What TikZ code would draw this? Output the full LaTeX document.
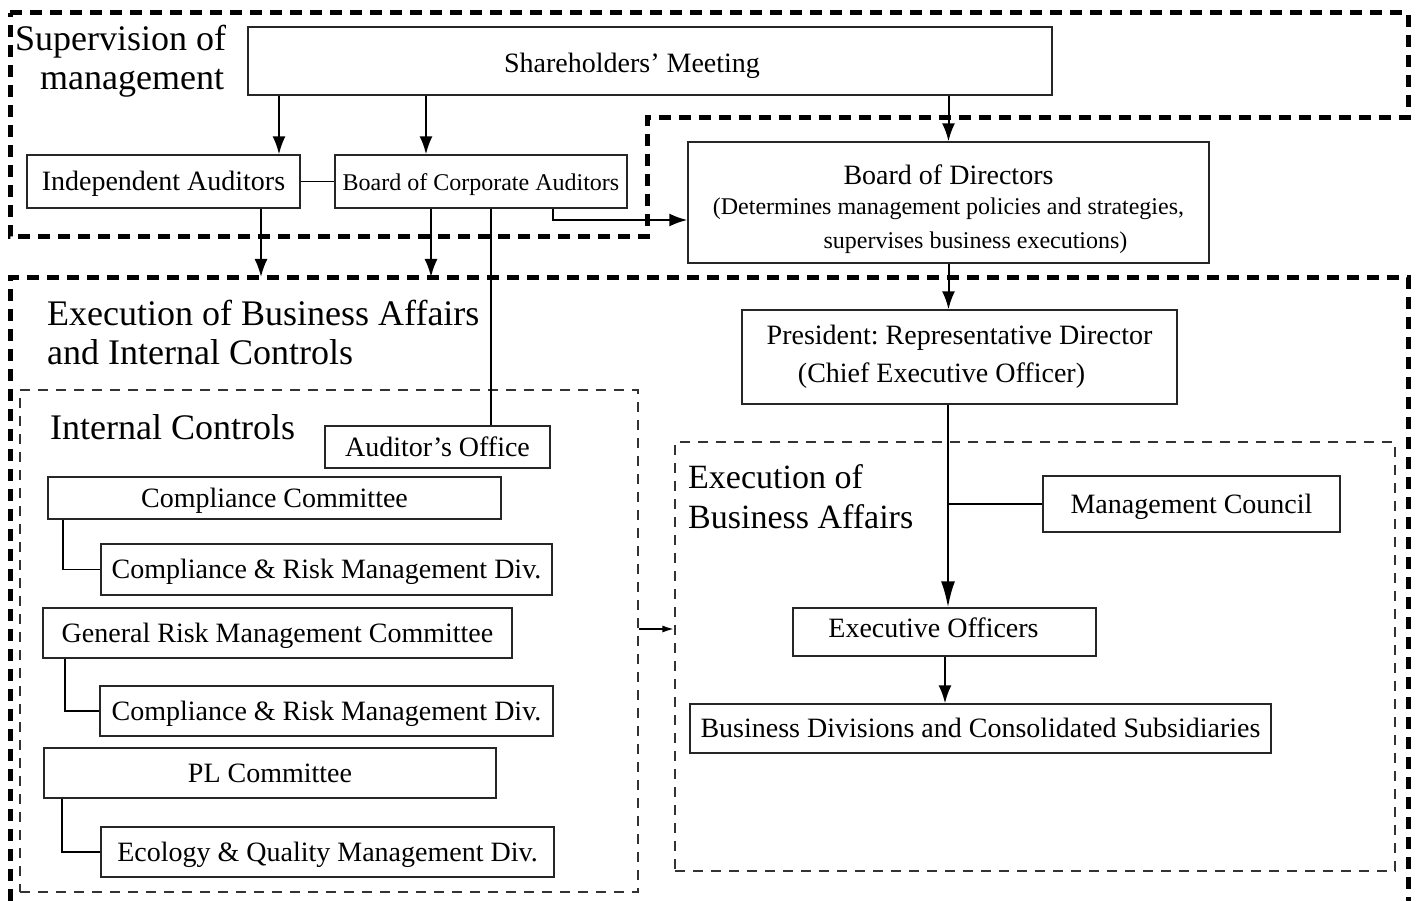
\documentclass[tikz,border=0pt]{standalone}
\usepackage{fontspec}
\setmainfont{Liberation Serif}
\frenchspacing
\usetikzlibrary{arrows.meta, positioning}
\tikzset{
	unit/.style={draw=black!85, line width=1.4pt, inner sep=0pt, text height=23pt, text depth=5pt, font=\fontsize{28}{34}\selectfont},
	note/.style={unit, font=\fontsize{24}{30}\selectfont},
	multi/.style={unit, align=center, text height={}, text depth={}},
	heading/.style={anchor=west, align=left, inner sep=0pt, font=\fontsize{36}{39}\selectfont},
	group/.style={draw, line width=5pt, dash pattern=on 12pt off 8pt},
	subgroup/.style={draw=black!80, line width=1.2pt, dash pattern=on 10pt off 8pt},
	link/.style={draw, line width=1.4pt},
	line/.style={draw, line width=2pt, -{Latex[length=18pt, width=13pt]}},
	longline/.style={line, -{Latex[length=26pt, width=14pt]}},
	shortline/.style={line, -{Latex[length=12pt, width=7pt]}}
}

\begin{document}
\begin{tikzpicture}[x=1pt, y=-1pt]
	\useasboundingbox (0,0) rectangle (1417,901);
	
	% Supervision
	\draw[group] (10,13) -- (1408,13) -- (1408,118) -- (647,118) -- (647,237) -- (10,237) -- cycle;
	\node[heading] (sup-title) at (15,61) {Supervision of\\\hspace*{25pt}management};
	\node[unit, minimum width=804pt, minimum height=68pt, text height=28pt, text depth=4pt] (SM) at (650,61) {\hspace*{-36pt}Shareholders’ Meeting};
	\node[unit, minimum width=273pt, minimum height=53pt] (IA) at (163.5,181.5) {Independent Auditors};
	\node[note, minimum width=292pt, minimum height=53pt] (BCA) at (481,181.5) {Board of Corporate Auditors};
	\node[multi, minimum width=521pt, minimum height=121pt] (BD) at (948.5,202.5)
		{\rule{0pt}{33pt}Board of Directors\\[-4pt]
		{\fontsize{24}{30}\selectfont (Determines management policies and strategies,}\\[0pt]
		{\fontsize{24}{30}\selectfont \hspace*{54pt}supervises business executions)}};
	
	% Execution and internal controls
	\draw[group] (10,901) -- (10,278) -- (1408,278) -- (1408,901);
	\coordinate (exec-top) at (0,277);
	\node[heading] (exec-title) at (47,333) {Execution of Business Affairs\\and Internal Controls};
	\node[multi, minimum width=435pt, minimum height=94pt] (P) at (959.5,357)
		{President: Representative Director\\[4pt]\hspace*{-36pt}(Chief Executive Officer)};
	
	% Internal Controls
	\node[subgroup, minimum width=618pt, minimum height=502pt] (IC-box) at (329,641) {};
	\node[heading] (ic-title) at (50,427) {Internal Controls};
	\node[unit, minimum width=225pt, minimum height=42pt] (AO) at (437.5,447) {Auditor’s Office};
	\node[unit, minimum width=453pt, minimum height=42pt] (CC) at (274.5,498) {Compliance Committee};
	\node[unit, minimum width=451pt, minimum height=51pt] (CRM-1) at (326.5,569.5) {Compliance \& Risk Management Div.};
	\node[unit, minimum width=469pt, minimum height=50pt] (GRMC) at (277.5,633) {General Risk Management Committee};
	\node[unit, minimum width=453pt, minimum height=50pt] (CRM-2) at (326.5,711) {Compliance \& Risk Management Div.};
	\node[unit, minimum width=452pt, minimum height=50pt] (PLC) at (270,773) {PL Committee};
	\node[unit, minimum width=453pt, minimum height=50pt] (EQM) at (327.5,852) {Ecology \& Quality Management Div.};
	
	% Execution of Business Affairs
	\node[subgroup, minimum width=720pt, minimum height=429pt] (EB-box) at (1035,656.5) {};
	\node[heading, font=\fontsize{34}{40}\selectfont] (eb-title) at (688,497) {Execution of\\Business Affairs};
	\node[unit, minimum width=297pt, minimum height=56pt] (MC) at (1191.5,504) {Management Council};
	\node[unit, minimum width=303pt, minimum height=48pt, text height=19pt, text depth=9pt] (EO) at (944.5,632) {\hspace*{-22pt}Executive Officers};
	\node[unit, minimum width=581pt, minimum height=49pt] (BDS) at (980.5,728.5) {Business Divisions and Consolidated Subsidiaries};
	
	% Connections
	\draw[line] (SM.south -| 279,0) -- (IA.north -| 279,0);
	\draw[line] (SM.south -| 426,0) -- (BCA.north -| 426,0);
	\draw[line] (SM.south -| BD.north) -- (BD.north);
	\draw[link] (IA.east) -- (BCA.west);
	\draw[line] (IA.south -| 261,0) -- (exec-top -| 261,0);
	\draw[line] (BCA.south -| 431,0) -- (exec-top -| 431,0);
	\draw[line] (BCA.south -| 553,0) |- (BD.west |- 0,220);
	\draw[link] (BCA.south -| 491,0) -- (AO.north -| 491,0);
	\draw[line] (BD.south) -- (P.north -| BD.south);
	\draw[longline] (P.south -| 948,0) -- (EO.north -| 948,0);
	\draw[link] (MC.west) -- (MC.west -| 948,0);
	\draw[line] (EO.south -| 945,0) -- (BDS.north -| 945,0);
	\draw[link] (CC.south -| 63,0) |- (CRM-1.west);
	\draw[link] (GRMC.south -| 65,0) |- (CRM-2.west);
	\draw[link] (PLC.south -| 62,0) |- (EQM.west);
	\draw[shortline] (IC-box.east |- 0,629) -- (EB-box.west |- 0,629);
\end{tikzpicture}
\end{document}
